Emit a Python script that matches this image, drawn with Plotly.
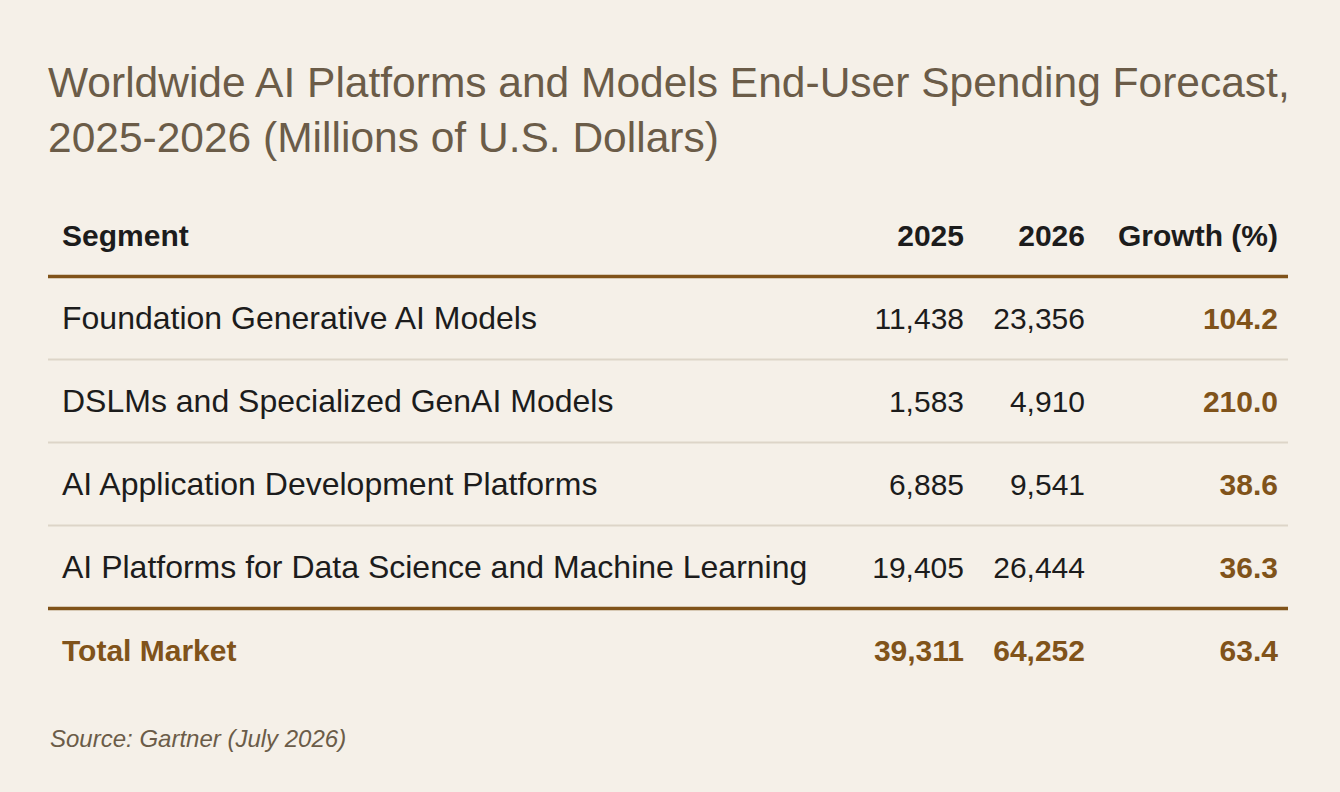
import plotly.graph_objects as go

# table data
segments = [
    "Foundation Generative AI Models",
    "DSLMs and Specialized GenAI Models",
    "AI Application Development Platforms",
    "AI Platforms for Data Science and Machine Learning",
]
spend_2025 = [11438, 1583, 6885, 19405]
spend_2026 = [23356, 4910, 9541, 26444]
growth = [104.2, 210.0, 38.6, 36.3]

total_label = "Total Market"
total_2025 = 39311
total_2026 = 64252
total_growth = 63.4

headers = ["Segment", "2025", "2026", "Growth (%)"]

title = "Worldwide AI Platforms and Models End-User Spending Forecast,<br>2025-2026 (Millions of U.S. Dollars)"
source = "Source: Gartner (July 2026)"

BG = "#F5F0E8"
BROWN = "#80531A"
INK = "#1C1C1C"
MUTED = "#6B5C48"
RULE = "#DDD5C8"
FONT = "Liberation Sans, Arial, Helvetica, sans-serif"

W, H = 1340, 792
# column anchors (x in px): left edge of segment, right edges of numeric columns
col_x = [62, 964, 1085, 1278]
row_top = 321   # px centre of first body row
row_step = 83   # px between rows
left, right = 48, 1288

rows = list(range(len(segments)))
total_row = len(segments)
header_row = -1

fig = go.Figure()


def add_col(x, ys, texts, color, size, weight, pos):
    fig.add_trace(go.Scatter(
        x=[x] * len(ys), y=ys, text=texts, mode="text",
        textposition=pos, hoverinfo="skip", showlegend=False,
        textfont=dict(family=FONT, size=size, color=color, weight=weight),
    ))


# header
add_col(col_x[0], [header_row], [headers[0]], INK, 30, "bold", "middle right")
for i in range(1, 4):
    add_col(col_x[i], [header_row], [headers[i]], INK, 30, "bold", "middle left")

# body rows
add_col(col_x[0], rows, segments, INK, 32, "normal", "middle right")
add_col(col_x[1], rows, [f"{v:,}" for v in spend_2025], INK, 30, "normal", "middle left")
add_col(col_x[2], rows, [f"{v:,}" for v in spend_2026], INK, 30, "normal", "middle left")
add_col(col_x[3], rows, [f"{v:.1f}" for v in growth], BROWN, 30, "bold", "middle left")

# total row
add_col(col_x[0], [total_row], [total_label], BROWN, 30, "bold", "middle right")
add_col(col_x[1], [total_row], [f"{total_2025:,}"], BROWN, 30, "bold", "middle left")
add_col(col_x[2], [total_row], [f"{total_2026:,}"], BROWN, 30, "bold", "middle left")
add_col(col_x[3], [total_row], [f"{total_growth:.1f}"], BROWN, 30, "bold", "middle left")

# rules between rows (rules sit 3px above the text-centre grid)
off = 3 / row_step
fig.add_shape(type="line", x0=left, x1=right, y0=header_row + 0.5 - off, y1=header_row + 0.5 - off,
              line=dict(color=BROWN, width=3.5))
for r in rows[:-1]:
    fig.add_shape(type="line", x0=left, x1=right, y0=r + 0.5 - off, y1=r + 0.5 - off,
                  line=dict(color=RULE, width=2))
fig.add_shape(type="line", x0=left, x1=right, y0=total_row - 0.5 - off, y1=total_row - 0.5 - off,
              line=dict(color=BROWN, width=3.5))

fig.add_annotation(text=source, xref="paper", yref="paper", x=left / W, y=1 - 738 / H,
                   xanchor="left", yanchor="middle", showarrow=False,
                   font=dict(family=FONT, size=24, color=MUTED, style="italic"))

fig.update_layout(
    width=W, height=H,
    margin=dict(l=0, r=0, t=0, b=0),
    paper_bgcolor=BG, plot_bgcolor=BG,
    title=dict(text=title, x=left / W, xanchor="left", y=1 - 97 / H, yanchor="top",
               font=dict(family=FONT, size=42.5, color=MUTED)),
    xaxis=dict(range=[0, W], visible=False, fixedrange=True),
    yaxis=dict(range=[(H - row_top) / row_step, -row_top / row_step],
               visible=False, fixedrange=True),
)

fig.write_html("out.html", config={"displayModeBar": False},
               post_script="document.body.style.margin='0';document.body.style.background='%s';" % BG)
